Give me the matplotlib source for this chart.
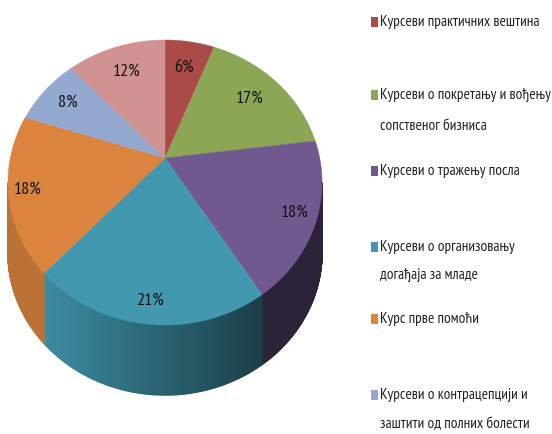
import numpy as np
import matplotlib
matplotlib.use("Agg")
import matplotlib.pyplot as plt
from matplotlib.patches import Polygon, Rectangle

# slices, clockwise from 12 o'clock
values = [6, 17, 18, 21, 18, 8, 12]
top_colors = ["#AA4B4A", "#8CA655", "#71588F", "#4198AF", "#DB843D", "#93A9CF", "#D19392"]
legend_lines = [
    ["Курсеви практичних вештина"],
    ["Курсеви о покретању и вођењу", "сопственог бизниса"],
    ["Курсеви о тражењу посла"],
    ["Курсеви о организовању", "догађаја за младе"],
    ["Курс прве помоћи"],
    ["Курсеви о контрацепцији и", "заштити од полних болести"],
]

# ---------------------------------------------------
# layout, in pixels of the 552x434 picture
# ---------------------------------------------------
APEX_X, APEX_Y = 165, 158
RADIUS_X, RADIUS_Y = 154.7, 138.3
TILT = 0.172
DEPTH = 70
LABEL_R = [0.75, 0.75, 0.87, 0.88, 0.88, 0.80, 0.75]
LEGEND_Y = [22, 95, 171, 247, 319, 395]
LINE_GAP = [0, 31, 0, 28, 0, 29]
FONT = ["PT Sans Narrow", "Roboto Condensed", "Open Sans", "DejaVu Sans"]
FRONT_FROM = np.radians(100)  # side wall is only visible between these two
FRONT_TO = np.radians(260)


def project(theta, r=1.0):
    # pie disc to picture, with a bit of perspective so the centre sits high
    x = r * np.sin(theta)
    y = r * np.cos(theta)
    w = 1 + TILT * y
    return APEX_X + RADIUS_X * x / w, APEX_Y - RADIUS_Y * y / w


def side_color(hex_color, x_pos, i):
    rgb = np.array(matplotlib.colors.to_rgb(hex_color))
    if i == 3:  # teal side fades out to the right
        f = np.interp(x_pos, [45, 258], [0.92, 0.42])
    elif i == 2:
        f = 0.40
    elif i == 4:
        f = 0.86
    else:
        f = 0.6
    return rgb * f


def main():
    fig = plt.figure(figsize=(5.52, 4.34), dpi=100, facecolor="white")
    ax = fig.add_axes([0, 0, 1, 1])
    ax.set_xlim(0, 552)
    ax.set_ylim(434, 0)
    ax.axis("off")

    edges = np.cumsum([0] + values) / sum(values) * 2 * np.pi

    # side wall first, the top face covers whatever is behind it
    for i, color in enumerate(top_colors):
        start = max(edges[i], FRONT_FROM)
        stop = min(edges[i + 1], FRONT_TO)
        if stop <= start:
            continue
        steps = np.linspace(start, stop, max(2, int(values[i] * 6)))
        for t0, t1 in zip(steps[:-1], steps[1:]):
            x0, y0 = project(t0)
            x1, y1 = project(t1)
            c = side_color(color, (x0 + x1) / 2, i)
            ax.add_patch(Polygon([(x0, y0), (x1, y1), (x1, y1 + DEPTH), (x0, y0 + DEPTH)],
                                 closed=True, facecolor=c, edgecolor=c, linewidth=1.0))

    # top face
    for i, color in enumerate(top_colors):
        arc = np.linspace(edges[i], edges[i + 1], 80)
        xs, ys = project(arc)
        pts = [(APEX_X, APEX_Y)] + list(zip(xs, ys))
        ax.add_patch(Polygon(pts, closed=True, facecolor=color, edgecolor=color, linewidth=0.3))

    # percent labels
    for i, v in enumerate(values):
        mid = (edges[i] + edges[i + 1]) / 2
        lx, ly = project(mid, LABEL_R[i])
        ax.text(lx, ly, f"{v}%", ha="center", va="center", fontsize=13,
                family=FONT, color="#111111")

    # legend (the chart is cropped, the last entry is not visible)
    for i, lines in enumerate(legend_lines):
        y = LEGEND_Y[i]
        ax.add_patch(Rectangle((371, y - 5), 7, 10, facecolor=top_colors[i], edgecolor="none"))
        ax.text(380, y, lines[0], ha="left", va="center", fontsize=11,
                family=FONT, color="#222222")
        if len(lines) > 1:
            ax.text(380, y + LINE_GAP[i], lines[1], ha="left", va="center", fontsize=11,
                    family=FONT, color="#222222")

    fig.savefig("out.png", dpi=100, facecolor="white")


if __name__ == "__main__":
    main()
